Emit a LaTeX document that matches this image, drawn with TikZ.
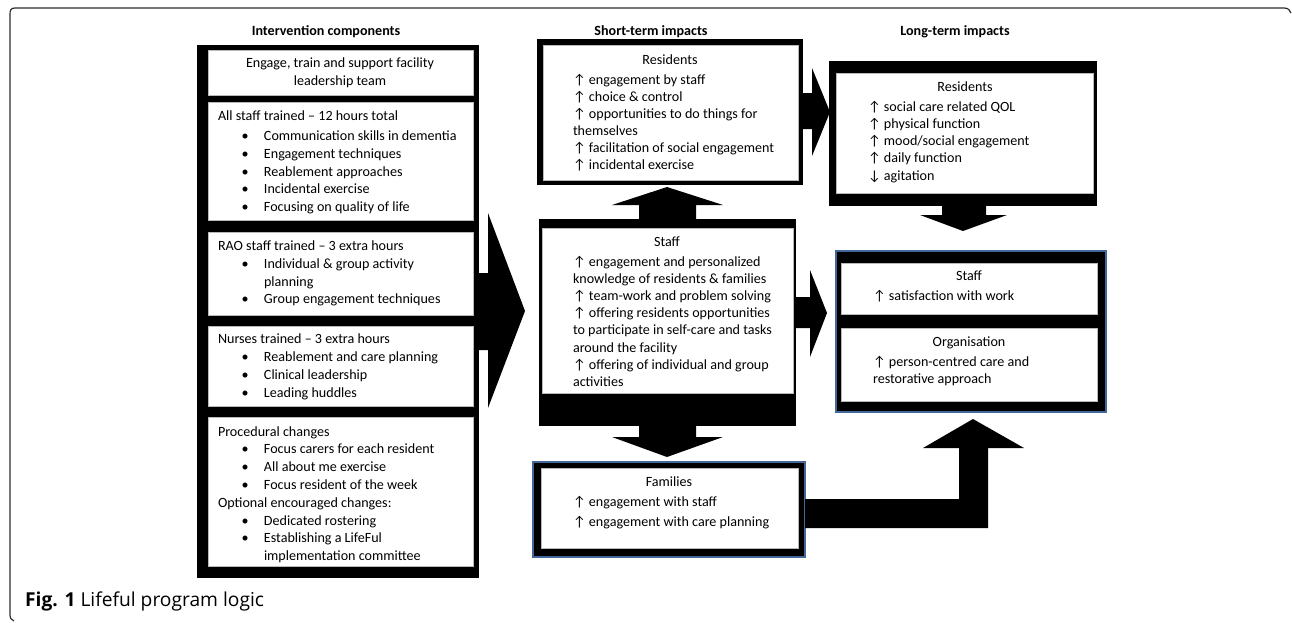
\documentclass[tikz,border=0pt]{standalone}
\usepackage{fontspec}
\setmainfont{Carlito}
\newfontfamily\capfont{Open Sans}
\definecolor{edgeblue}{RGB}{68,104,156}
\definecolor{framegray}{RGB}{45,45,45}
\newcommand\dgfont{\fontsize{14.1}{17}\selectfont}
\newcommand\bl{\makebox[22.5pt][l]{•}}
\newcommand\rnode[6]{%
  \pgfmathsetmacro\rnX{(#3+#5)/2}%
  \pgfmathsetmacro\rnY{(#4+#6)/2}%
  \pgfmathsetmacro\rnW{#5-#3}%
  \pgfmathsetmacro\rnH{#6-#4}%
  \node[#1, minimum width=\rnW pt, minimum height=\rnH pt, inner sep=0pt, outer sep=0pt] (#2) at (\rnX,\rnY) {};}
\tikzset{
  blk/.style={rectangle, fill=black, draw=none},
  wbox/.style={rectangle, fill=white, draw=gray!55, line width=0.6pt},
  bluebox/.style={rectangle, fill=black, draw=edgeblue, line width=1.6pt},
  ln/.style={font=\dgfont, inner sep=0pt, outer sep=0pt, anchor=base west},
  ctr/.style={font=\dgfont, inner sep=0pt, outer sep=0pt, anchor=base},
  ttl/.style={font=\dgfont\bfseries, inner sep=0pt, outer sep=0pt, anchor=base},
  barrow/.style={fill=black},
  framestyle/.style={draw=framegray, line width=1.2pt}
}
\begin{document}
\begin{tikzpicture}[x=1pt,y=-1pt]
\useasboundingbox (0,0) rectangle (1292,622);
% outer frame
\draw[framestyle] (14,621) .. controls (11,620) and (10,618) .. (10,614) -- (10,14) .. controls (10,10) and (11,8) .. (15,8) -- (1284,8) .. controls (1288,8) and (1290,10) .. (1291,13);

% column titles
\node[ttl] (t1) at (326,35) {Intervention components};
\node[ttl] (t2) at (651,35) {Short-term impacts};
\node[ttl] (t3) at (955,35) {Long-term impacts};

% left column boxes
\rnode{blk}{icomp}{197}{45}{479}{578}
\rnode{wbox}{L1}{208}{50}{473}{95}
\rnode{wbox}{L2}{208}{102}{473}{220}
\rnode{wbox}{L3}{208}{232}{473}{315}
\rnode{wbox}{L4}{208}{326}{473}{406}
\rnode{wbox}{L5}{208}{417}{473}{566}

% short-term boxes
\rnode{blk}{sresO}{537}{39}{803}{185}
\rnode{wbox}{sres}{543}{45}{798}{180}
\rnode{blk}{sstaffO}{539}{219}{796}{426}
\rnode{wbox}{sstaff}{542}{228}{793}{393}
\rnode{bluebox}{famO}{533}{462}{805}{557}
\rnode{wbox}{fam}{541}{468}{798}{548}

% long-term boxes
\rnode{blk}{lresO}{829}{61}{1097}{206}
\rnode{wbox}{lres}{836}{73}{1093}{193}
\rnode{bluebox}{lsoO}{836}{251}{1106}{412}
\rnode{wbox}{lstaff}{841}{263}{1097}{314}
\rnode{wbox}{lorg}{841}{328}{1097}{401}

% block arrows
\fill[barrow] (479,273) -- (488,273) -- (488,213) -- (525,311) -- (488,408) -- (488,350) -- (479,350) -- cycle;
\fill[barrow] (639,219) -- (639,205) -- (612,205) -- (667,187) -- (723,205) -- (696,205) -- (696,219) -- cycle;
\fill[barrow] (639,426) -- (639,437) -- (612,437) -- (667,457) -- (723,437) -- (696,437) -- (696,426) -- cycle;
\fill[barrow] (803,93) -- (812,93) -- (812,68) -- (830,112) -- (812,156) -- (812,129) -- (803,129) -- cycle;
\fill[barrow] (796,297) -- (810,297) -- (810,270) -- (827,313) -- (810,357) -- (810,328) -- (796,328) -- cycle;
\fill[barrow] (942,206) -- (942,215) -- (920,215) -- (963,231) -- (1007,215) -- (986,215) -- (986,206) -- cycle;
\fill[barrow] (805,499) -- (959,499) -- (959,448) -- (923,448) -- (973,419) -- (1024,448) -- (988,448) -- (988,528) -- (805,528) -- cycle;

% left column texts
\node[ctr] (l1a) at (340,67.5) {Engage, train and support facility};
\node[ctr] (l1b) at (340,85) {leadership team};

\node[ln] (l2h) at (218,120.5) {All staff trained – 12 hours total};
\node[ln] (l2a) at (241.5,140.5) {\bl Communication skills in dementia};
\node[ln] (l2b) at (241.5,158.3) {\bl Engagement techniques};
\node[ln] (l2c) at (241.5,176.1) {\bl Reablement approaches};
\node[ln] (l2d) at (241.5,193.9) {\bl Incidental exercise};
\node[ln] (l2e) at (241.5,211.7) {\bl Focusing on quality of life};

\node[ln] (l3h) at (218,250.5) {RAO staff trained – 3 extra hours};
\node[ln] (l3a) at (241.5,268.5) {\bl Individual \& group activity};
\node[ln] (l3b) at (264,286) {planning};
\node[ln] (l3c) at (241.5,303.5) {\bl Group engagement techniques};

\node[ln] (l4h) at (218,343.5) {Nurses trained – 3 extra hours};
\node[ln] (l4a) at (241.5,361.5) {\bl Reablement and care planning};
\node[ln] (l4b) at (241.5,379.5) {\bl Clinical leadership};
\node[ln] (l4c) at (241.5,397.5) {\bl Leading huddles};

\node[ln] (l5h) at (218,436.2) {Procedural changes};
\node[ln] (l5a) at (241.5,453.8) {\bl Focus carers for each resident};
\node[ln] (l5b) at (241.5,471.6) {\bl All about me exercise};
\node[ln] (l5c) at (241.5,489.4) {\bl Focus resident of the week};
\node[ln] (l5h2) at (218,507) {Optional encouraged changes:};
\node[ln] (l5d) at (241.5,525) {\bl Dedicated rostering};
\node[ln] (l5e) at (241.5,542.7) {\bl Establishing a LifeFul};
\node[ln] (l5f) at (264,560.3) {implementation committee};

% short-term residents
\node[ctr] (srh) at (670,64.5) {Residents};
\node[ln] (sr1) at (573,84.5) {↑ engagement by staff};
\node[ln] (sr2) at (573,101.5) {↑ choice \& control};
\node[ln] (sr3) at (573,118.5) {↑ opportunities to do things for};
\node[ln] (sr4) at (573,135.5) {themselves};
\node[ln] (sr5) at (573,152.5) {↑ facilitation of social engagement};
\node[ln] (sr6) at (573,169.5) {↑ incidental exercise};

% short-term staff
\node[ctr] (ssh) at (667,246.2) {Staff};
\node[ln] (ss1) at (573,266.2) {↑ engagement and personalized};
\node[ln] (ss2) at (573,283.2) {knowledge of residents \& families};
\node[ln] (ss3) at (573,300.4) {↑ team-work and problem solving};
\node[ln] (ss4) at (573,317.6) {↑ offering residents opportunities};
\node[ln] (ss5) at (573,334.8) {to participate in self-care and tasks};
\node[ln] (ss6) at (573,352) {around the facility};
\node[ln] (ss7) at (573,369.2) {↑ offering of individual and group};
\node[ln] (ss8) at (573,386.4) {activities};

% families
\node[ctr] (fh) at (669,486.2) {Families};
\node[ln] (f1) at (573,506.2) {↑ engagement with staff};
\node[ln] (f2) at (573,526.2) {↑ engagement with care planning};

% long-term residents
\node[ctr] (lrh) at (965,91.2) {Residents};
\node[ln] (lr1) at (868,111.2) {↑ social care related QOL};
\node[ln] (lr2) at (868,128.4) {↑ physical function};
\node[ln] (lr3) at (868,145.6) {↑ mood/social engagement};
\node[ln] (lr4) at (868,162.8) {↑ daily function};
\node[ln] (lr5) at (868,180) {↓ agitation};

% long-term staff / organisation
\node[ctr] (lsh) at (969,280.5) {Staff};
\node[ln] (ls1) at (873,300.5) {↑ satisfaction with work};
\node[ctr] (loh) at (969,346.8) {Organisation};
\node[ln] (lo1) at (873,366.8) {↑ person-centred care and};
\node[ln] (lo2) at (873,383.8) {restorative approach};

% caption
\node[anchor=base west, inner sep=0pt, font=\capfont\fontsize{19.2}{21}\selectfont] (cap) at (25,606) {\textbf{Fig. 1} Lifeful program logic};
\end{tikzpicture}
\end{document}
